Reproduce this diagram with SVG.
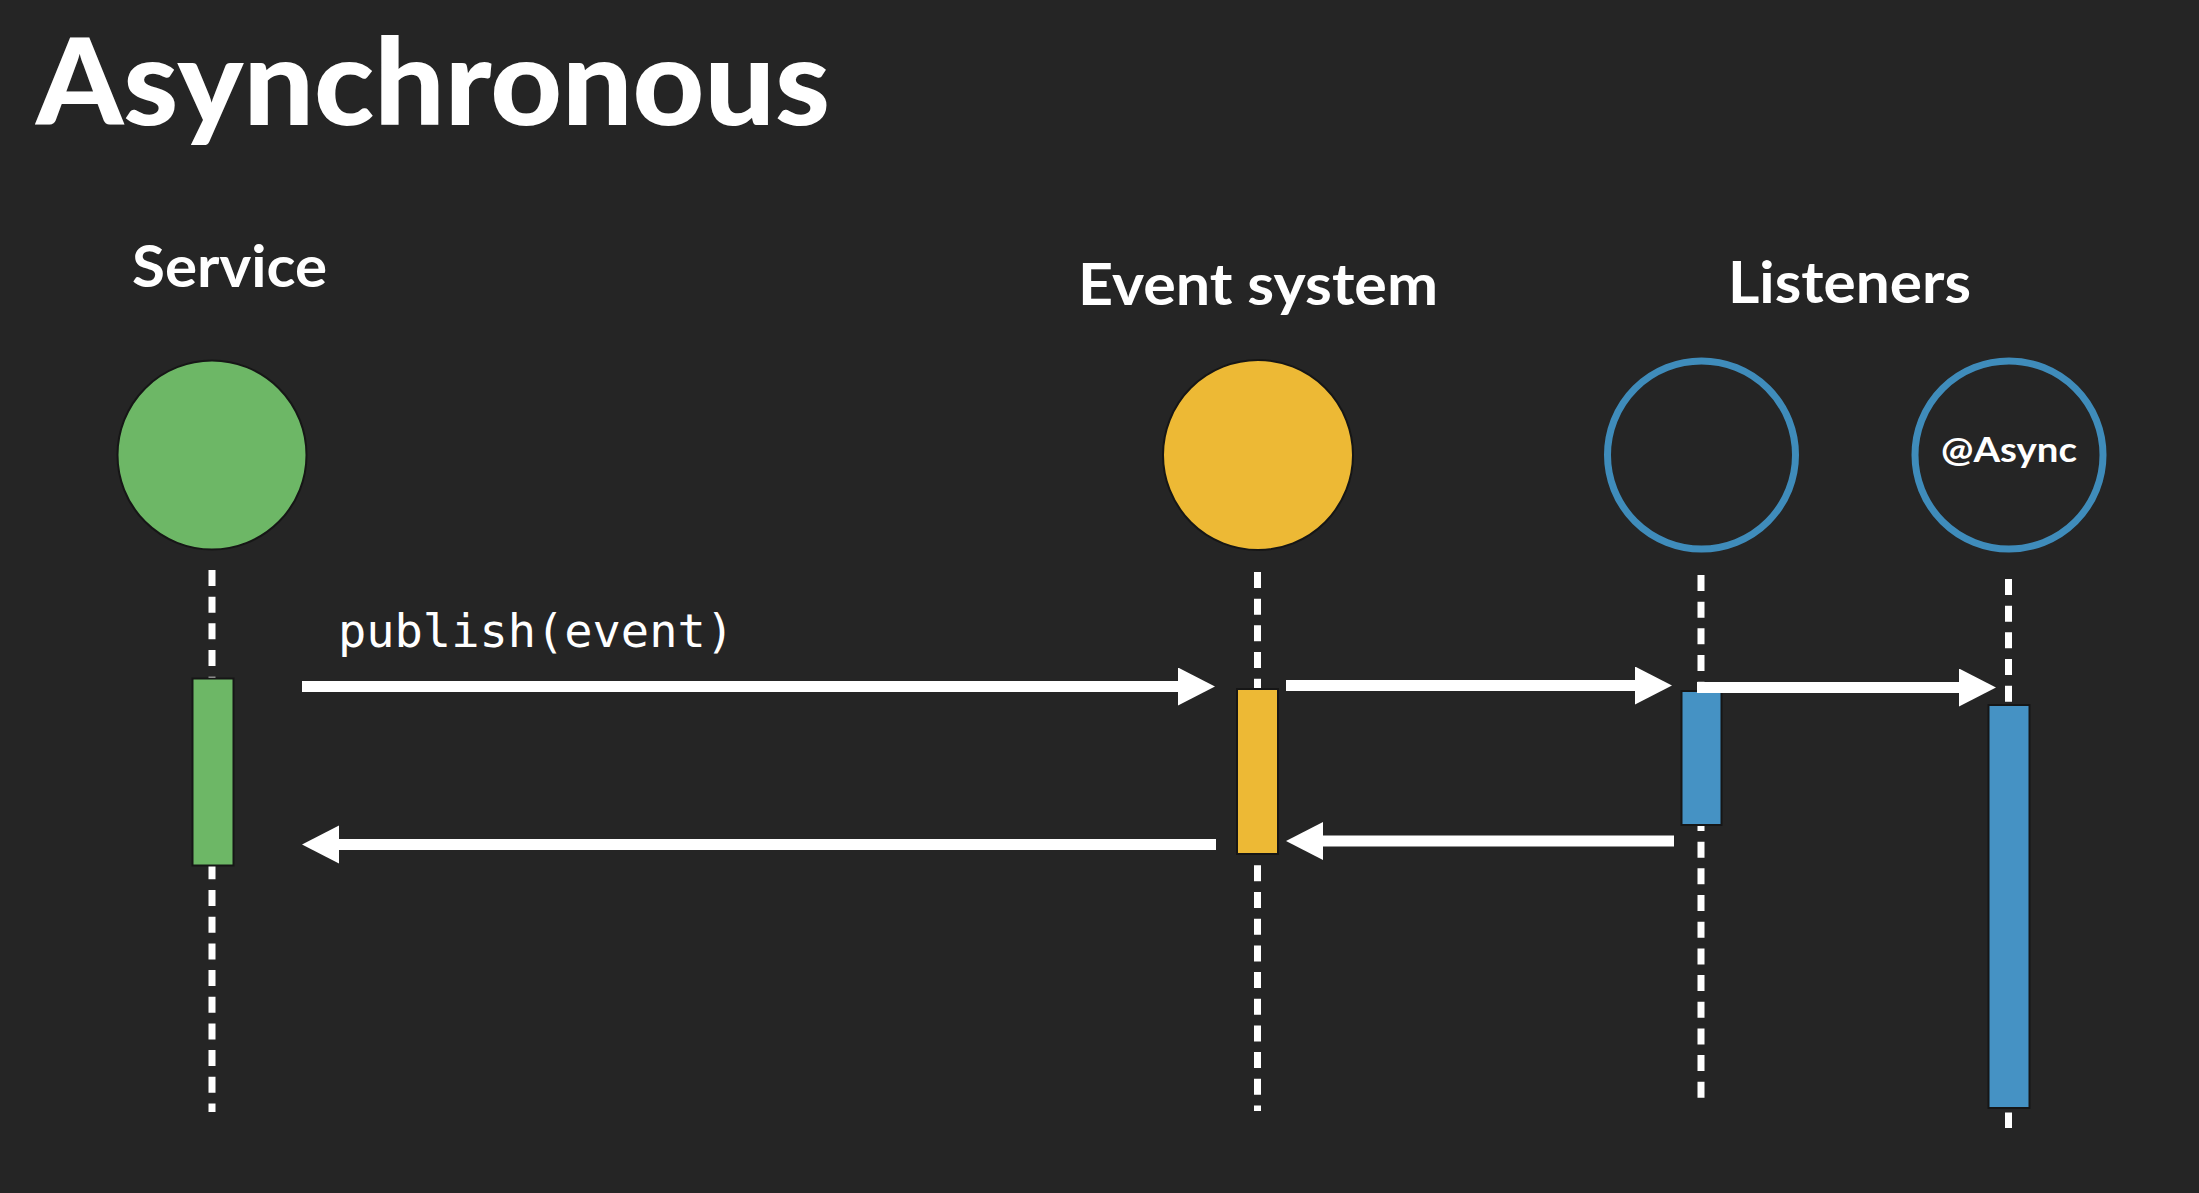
<svg xmlns="http://www.w3.org/2000/svg" width="2199" height="1193" viewBox="0 0 2199 1193">
  <defs>
    <style>
      .title { font-family: Lato, "Open Sans", "Liberation Sans", sans-serif; font-weight: 900; fill: #ffffff; }
      .label { font-family: Lato, "Open Sans", "Liberation Sans", sans-serif; font-weight: 700; fill: #ffffff; }
      .code { font-family: "DejaVu Sans Mono", "Liberation Mono", monospace; fill: #ffffff; }
      .life { stroke: #ffffff; stroke-width: 7; stroke-dasharray: 16 10.67; fill: none; }
      .msg { stroke: #ffffff; stroke-width: 11; fill: none; marker-end: url(#head); }
      .bar { stroke: #161616; stroke-width: 2; }
    </style>
    <marker id="head" markerUnits="userSpaceOnUse" markerWidth="38" markerHeight="40" refX="7" refY="19" orient="auto">
      <path d="M0,0 L37,19 L0,38 Z" fill="#ffffff"/>
    </marker>
  </defs>
  <rect width="2199" height="1193" fill="#252525"/>

  <text class="title" x="36" y="125" font-size="120" textLength="794" lengthAdjust="spacingAndGlyphs">Asynchronous</text>

  <g id="lifelines">
    <line class="life" x1="212" y1="570" x2="212" y2="1112"/>
    <line class="life" x1="1257.5" y1="572" x2="1257.5" y2="1111"/>
    <line class="life" x1="1701" y1="575" x2="1701" y2="1098"/>
    <line class="life" x1="2008.5" y1="579" x2="2008.5" y2="1128"/>
  </g>

  <g id="service">
    <text class="label" x="132" y="287" font-size="57" textLength="195" lengthAdjust="spacingAndGlyphs">Service</text>
    <circle cx="212" cy="455" r="94.5" fill="#6db766" stroke="#161616" stroke-width="2"/>
    <rect class="bar" x="192.5" y="678.5" width="41" height="187" fill="#6db766"/>
  </g>

  <g id="event-system">
    <text class="label" x="1078" y="305" font-size="57" textLength="360" lengthAdjust="spacingAndGlyphs">Event system</text>
    <circle cx="1258" cy="455" r="95" fill="#edb935" stroke="#161616" stroke-width="2"/>
    <rect class="bar" x="1237" y="689" width="41" height="165" fill="#edb935"/>
  </g>

  <g id="listeners-label">
    <text class="label" x="1728" y="303" font-size="58" textLength="243" lengthAdjust="spacingAndGlyphs">Listeners</text>
  </g>

  <g id="listener-sync">
    <circle cx="1701.5" cy="455" r="94" fill="none" stroke="#3f8cbb" stroke-width="7"/>
    <rect class="bar" x="1681.5" y="691" width="40" height="134" fill="#4592c4"/>
  </g>

  <g id="listener-async">
    <circle cx="2009" cy="455" r="94" fill="none" stroke="#3f8cbb" stroke-width="7"/>
    <text class="label" x="1941" y="462" font-size="35" textLength="136" lengthAdjust="spacingAndGlyphs">@Async</text>
    <rect class="bar" x="1988.5" y="705" width="41" height="403" fill="#4592c4"/>
  </g>

  <g id="connectors">
    <text class="code" x="338" y="647" font-size="46" textLength="396" lengthAdjust="spacingAndGlyphs">publish(event)</text>
    <line class="msg" x1="302" y1="686.5" x2="1185" y2="686.5"/>
    <line class="msg" x1="1286" y1="685.5" x2="1642" y2="685.5"/>
    <line class="msg" x1="1697" y1="687.5" x2="1966" y2="687.5"/>
    <line class="msg" x1="1674" y1="841" x2="1316" y2="841"/>
    <line class="msg" x1="1216" y1="844.5" x2="332" y2="844.5"/>
  </g>
</svg>
